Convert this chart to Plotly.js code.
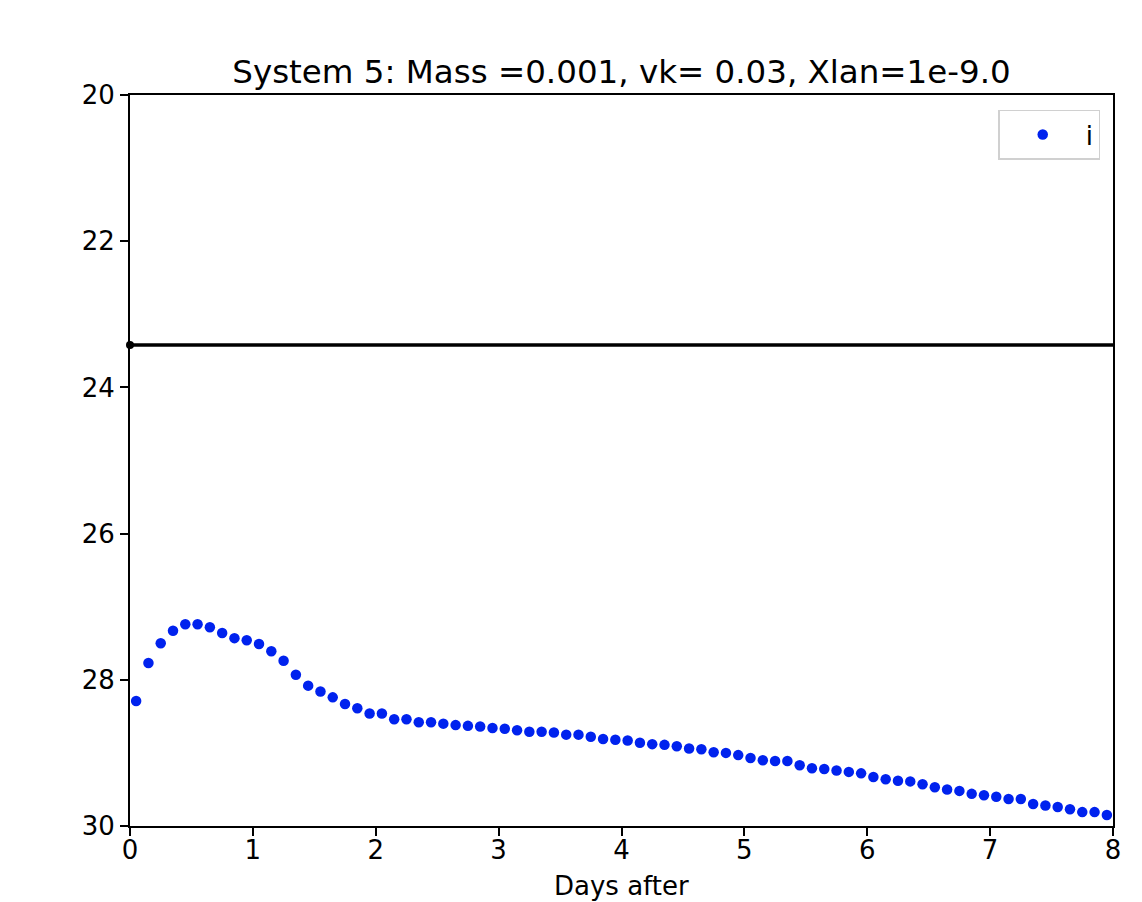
<!DOCTYPE html>
<html>
<head>
<meta charset="utf-8">
<script src="https://cdn.plot.ly/plotly-3.0.1.min.js"></script>
<style>html,body{margin:0;padding:0;background:#fff;}#chart{width:1142px;height:902px;}</style>
</head>
<body>
<div id="chart"></div>
<script>
const days = [0.05,0.15,0.25,0.35,0.45,0.55,0.65,0.75,0.85,0.95,
  1.05,1.15,1.25,1.35,1.45,1.55,1.65,1.75,1.85,1.95,
  2.05,2.15,2.25,2.35,2.45,2.55,2.65,2.75,2.85,2.95,
  3.05,3.15,3.25,3.35,3.45,3.55,3.65,3.75,3.85,3.95,
  4.05,4.15,4.25,4.35,4.45,4.55,4.65,4.75,4.85,4.95,
  5.05,5.15,5.25,5.35,5.45,5.55,5.65,5.75,5.85,5.95,
  6.05,6.15,6.25,6.35,6.45,6.55,6.65,6.75,6.85,6.95,
  7.05,7.15,7.25,7.35,7.45,7.55,7.65,7.75,7.85,7.95];
const magI = [28.29,27.77,27.50,27.33,27.24,27.24,27.28,27.36,27.43,27.46,
  27.51,27.61,27.74,27.93,28.08,28.16,28.24,28.33,28.39,28.46,
  28.46,28.54,28.54,28.58,28.58,28.60,28.62,28.63,28.64,28.66,
  28.67,28.69,28.71,28.71,28.72,28.75,28.75,28.78,28.81,28.82,
  28.83,28.86,28.88,28.89,28.91,28.94,28.95,28.99,29.00,29.03,
  29.07,29.10,29.11,29.11,29.17,29.21,29.22,29.24,29.26,29.28,
  29.33,29.36,29.38,29.39,29.43,29.47,29.50,29.52,29.56,29.58,
  29.60,29.63,29.63,29.70,29.72,29.74,29.77,29.81,29.81,29.85];
const limitX = [0, 8.2];
const limitY = [23.42, 23.42];
const xTicks = [0,1,2,3,4,5,6,7,8];
const yTicks = [20,22,24,26,28,30];
const titleText = "System 5: Mass =0.001, vk= 0.03, Xlan=1e-9.0";
const xLabel = "Days after";

const font = "DejaVu Sans, sans-serif";
const traces = [
  {x: limitX, y: limitY, mode: 'lines', line: {color: '#000', width: 3.5}, showlegend: false, hoverinfo: 'skip'},
  {x: [limitX[0]], y: [limitY[0]], mode: 'markers', marker: {color: '#000', size: 8}, showlegend: false, cliponaxis: false},
  {x: days, y: magI, mode: 'markers', name: 'i', marker: {color: '#0022ee', size: 10.5}}
];
const layout = {
  width: 1142, height: 902,
  margin: {l: 130, r: 29, t: 95, b: 76},
  paper_bgcolor: '#fff', plot_bgcolor: '#fff',
  font: {family: font, size: 26, color: '#000'},
  title: {text: titleText, font: {family: font, size: 32.5, color: '#000'}, x: 0.5, xref: 'paper', y: 1, yref: 'paper', yanchor: 'bottom', pad: {b: 12}},
  showlegend: true,
  legend: {x: 0.987, xanchor: 'right', y: 0.98, yanchor: 'top', bgcolor: '#fff', bordercolor: '#d0d0d0', borderwidth: 1.5, font: {family: font, size: 26}, itemwidth: 76},
  annotations: [{text: xLabel, xref: 'paper', yref: 'paper', x: 0.5, y: -0.059, xanchor: 'center', yanchor: 'top', showarrow: false, font: {family: font, size: 26, color: '#000'}}],
  xaxis: {range: [0, 8], tickvals: xTicks, ticktext: xTicks.map(String), showgrid: false, zeroline: false,
    showline: true, mirror: true, linecolor: '#000', linewidth: 2, ticks: 'outside', ticklen: 8, tickwidth: 2, tickcolor: '#000',
    ticklabelstandoff: -8,
    tickfont: {family: font, size: 26}, automargin: false},
  yaxis: {range: [30, 20], tickvals: yTicks, ticktext: yTicks.map(String), showgrid: false, zeroline: false,
    showline: true, mirror: true, linecolor: '#000', linewidth: 2, ticks: 'outside', ticklen: 8, tickwidth: 2, tickcolor: '#000',
    tickfont: {family: font, size: 26}, automargin: false}
};
Plotly.newPlot('chart', traces, layout, {displayModeBar: false, staticPlot: true});
</script>
</body>
</html>
